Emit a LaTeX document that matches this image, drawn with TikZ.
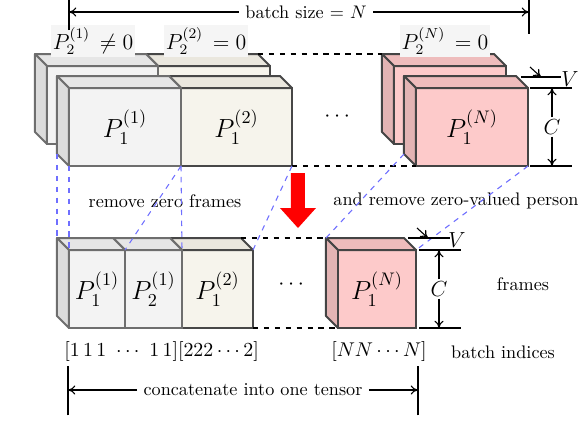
\documentclass[tikz,border=0pt]{standalone}
\usepackage{amsmath, amssymb}
\usepackage{xcolor}
\usetikzlibrary{arrows.meta, positioning, calc}

\definecolor{gfront}{HTML}{F3F3F3}
\definecolor{gtop}{HTML}{E6E6E6}
\definecolor{gside}{HTML}{DCDCDC}
\definecolor{gline}{HTML}{6E6E6E}
\definecolor{bfront}{HTML}{F6F4EC}
\definecolor{btop}{HTML}{EAE7DE}
\definecolor{bside}{HTML}{E2DFD6}
\definecolor{bline}{HTML}{474747}
\definecolor{pfront}{HTML}{FDCACA}
\definecolor{ptop}{HTML}{EEBCBC}
\definecolor{pside}{HTML}{E3B4B4}
\definecolor{pline}{HTML}{444444}
\definecolor{linkblue}{HTML}{6F6FFF}

\def\pxu{0.55pt}
% one frame cube: name, x, y of front face, width, colour prefix, label
\newcommand{\frameblock}[6]{%
  \node[face, draw=#5line, fill=#5front, minimum width=#4*\pxu, anchor=north west] (#1) at (#2,#3) {#6};
  \filldraw[draw=#5line, fill=#5top, line width=1.1pt, line join=round]
    (#1.north west) -- ++(-12,-12) -- ++(#4,0) -- (#1.north east) -- cycle;
  \filldraw[draw=#5line, fill=#5side, line width=1.1pt, line join=round]
    (#1.north west) -- ++(-12,-12) -- ++(0,78) -- (#1.south west) -- cycle;
}

\begin{document}
\begin{tikzpicture}[x=0.55pt, y=-0.55pt,
  face/.style={draw, line width=1.1pt, outer sep=0pt, inner sep=0pt, minimum height=78*\pxu, font=\Large},
  link/.style={dashed, draw=linkblue, line width=0.6pt},
  guide/.style={dashed, line width=0.6pt},
  dim/.style={-{To[length=4pt, width=5pt]}, line width=0.6pt},
  tick/.style={line width=0.6pt},
  dimlbl/.style={font=\large, inner sep=1pt},
  zerolbl/.style={fill=black!4, inner sep=1pt, font=\large},
  idxlbl/.style={font=\fontsize{11pt}{13pt}\selectfont}
]
\useasboundingbox (0,0) rectangle (582,426);

% batch of persons, second person layer behind
\frameblock{bN}{394}{66}{112}{p}{\strut}
\frameblock{b2}{158}{66}{112}{b}{\strut}
\frameblock{b1}{47}{66}{111}{g}{\strut}
\frameblock{fN}{416}{88}{112}{p}{$P_1^{(N)}$}
\frameblock{f2}{181}{88}{111}{b}{$P_1^{(2)}$}
\frameblock{f1}{69}{88}{112}{g}{$P_1^{(1)}$}

\node[zerolbl] (z1) at (93,41) {$P_2^{(1)}\,\neq 0$};
\node[zerolbl] (z2) at (206,41) {$P_2^{(2)}\,=0$};
\node[zerolbl] (zN) at (445,41) {$P_2^{(N)}\,=0$};
\node[font=\large] (dotsT) at (339,117) {$\cdots$};

\draw[guide] ([shift={(-12,-12)}]b2.north east) -- ([shift={(-12,-12)}]bN.north west);
\draw[guide] (f2.south east) -- (fN.south west);

% batch size
\node (bs) at (306,12) {batch size = $N$};
\coordinate (bsL) at (69,12);
\coordinate (bsR) at (529,12);
\draw[tick] ([yshift=-10]bsL) -- ([yshift=10]bsL);
\draw[tick] ([yshift=-12]bsR) -- ([yshift=10]bsR);
\draw[dim] (bs.west) -- (bsL);
\draw[dim] (bs.east) -- (bsR);

% V and C of the top cubes
\node[dimlbl] (cT) at (552,127) {$C$};
\coordinate (cTa) at (552,88);
\coordinate (cTb) at (552,166);
\draw[tick] ([xshift=-12]cTa) -- ([xshift=11]cTa);
\draw[tick] ([xshift=-12]cTb) -- ([xshift=11]cTb);
\draw[dim] (cT.north) -- (cTa);
\draw[dim] (cT.south) -- (cTb);
\node[dimlbl] (vT) at (570,79) {$V$};
\coordinate (vTa) at (541,77);
\draw[tick] ([xshift=-11]vTa) -- ([xshift=11]vTa);
\draw[dim] ([shift={(-11,-10)}]vTa) -- (vTa);

% red arrow
\fill[red] (291,173) -- (305,173) -- (305,208) -- (316,208) -- (298,228) -- (280,208) -- (291,208) -- cycle;

\node (rz) at (165,201) {remove zero frames};
\node (rp) at (456,201) {and remove zero-valued person};

% concatenated frames
\frameblock{cN}{338}{250}{78}{p}{$P_1^{(N)}$}
\frameblock{c3}{182}{250}{71}{b}{$P_1^{(2)}$}
\frameblock{c2}{125}{250}{57}{g}{$P_2^{(1)}$}
\frameblock{c1}{69}{250}{56}{g}{$P_1^{(1)}$}
\node[font=\large] (dotsB) at (293,285) {$\cdots$};

\draw[guide] ([shift={(-12,-12)}]c3.north east) -- ([shift={(-12,-12)}]cN.north west);
\draw[guide] (c3.south east) -- (cN.south west);

% links between the rows
\draw[link] ([shift={(-12,-12)}]f1.south west) -- ([shift={(-12,-12)}]c1.north west);
\draw[link] (f1.south west) -- (c1.north west);
\draw[link] (f1.south east) -- (c2.north west);
\draw[link] (f2.south west) -- (c3.north west);
\draw[link] (f2.south east) -- (c3.north east);
\draw[link] ([shift={(-12,-12)}]fN.south west) -- ([shift={(-12,-12)}]cN.north west);
\draw[link] (fN.south east) -- (cN.north east);

% V and C of the bottom cube
\node[dimlbl] (cB) at (439,289) {$C$};
\coordinate (cBa) at (439,250);
\coordinate (cBb) at (439,328);
\draw[tick] ([xshift=-11]cBa) -- ([xshift=12]cBa);
\draw[tick] ([xshift=-11]cBb) -- ([xshift=12]cBb);
\draw[dim] (cB.north) -- (cBa);
\draw[dim] (cB.south) -- (cBb);
\node[dimlbl] (vB) at (457,240) {$V$};
\coordinate (vBa) at (428,238);
\draw[tick] ([xshift=-11]vBa) -- ([xshift=12]vBa);
\draw[dim] ([shift={(-11,-10)}]vBa) -- (vBa);

\node (fr) at (523,284) {frames};
\node[idxlbl, anchor=west, inner sep=0pt] (ixA) at (64,352) {$[1\,1\,1\ \cdots\ 1\,1][222\cdots2]$};
\node[idxlbl] (ixN) at (379,352) {$[NN\cdots N]$};
\node (bi) at (503,352) {batch indices};

% concatenate
\node (cc) at (253,390) {concatenate into one tensor};
\coordinate (ccL) at (68,390);
\coordinate (ccR) at (418,390);
\draw[tick] ([yshift=-14]ccL) -- ([yshift=13]ccL);
\draw[tick] ([yshift=-14]ccR) -- ([yshift=13]ccR);
\draw[dim] (cc.west) -- (ccL);
\draw[dim] (cc.east) -- (ccR);
\end{tikzpicture}
\end{document}
